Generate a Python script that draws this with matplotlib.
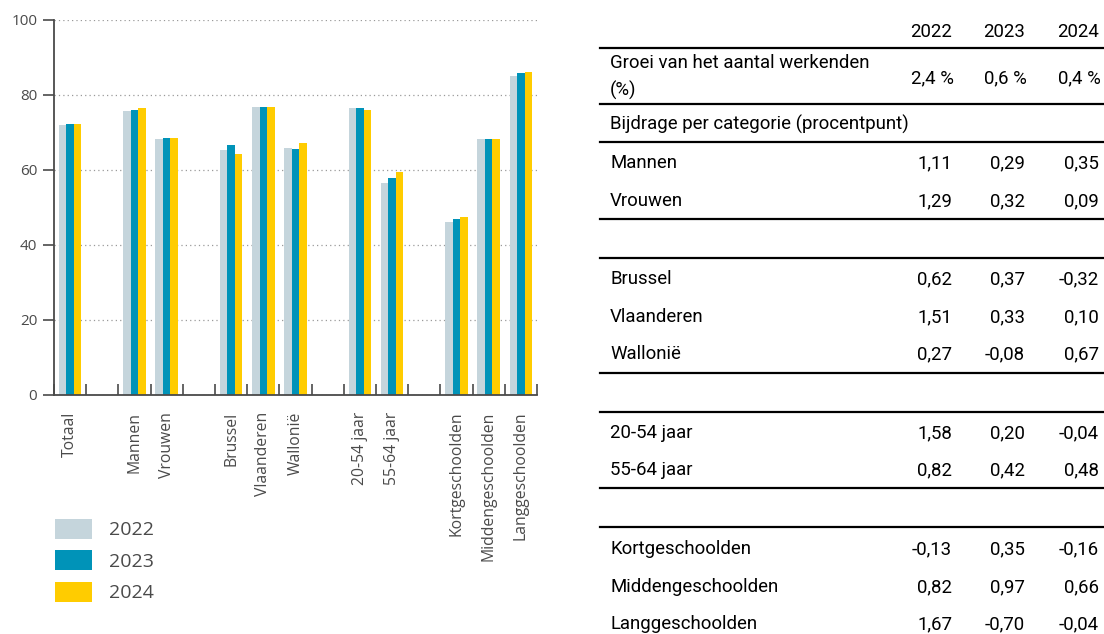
import matplotlib
matplotlib.use("Agg")
import matplotlib.pyplot as plt
from matplotlib.lines import Line2D
from matplotlib.patches import Patch

# ---------------- data ----------------
years = ["2022", "2023", "2024"]
groups = [
    ["Totaal"],
    ["Mannen", "Vrouwen"],
    ["Brussel", "Vlaanderen", "Wallonië"],
    ["20-54 jaar", "55-64 jaar"],
    ["Kortgeschoolden", "Middengeschoolden", "Langgeschoolden"],
]
rate_2022 = [71.9, 75.7, 68.1, 65.2, 76.7, 65.7, 76.5, 56.5, 46.2, 68.3, 85.0]
rate_2023 = [72.1, 76.0, 68.4, 66.5, 76.8, 65.5, 76.3, 57.8, 46.9, 68.1, 85.8]
rate_2024 = [72.3, 76.3, 68.4, 64.1, 76.8, 67.1, 76.0, 59.4, 47.5, 68.1, 86.0]
yticks = [0, 20, 40, 60, 80, 100]

growth_label = "Groei van het aantal werkenden\n(%)"
growth = [2.4, 0.6, 0.4]
contrib_title = "Bijdrage per categorie (procentpunt)"
contrib_groups = [
    ["Mannen", "Vrouwen"],
    ["Brussel", "Vlaanderen", "Wallonië"],
    ["20-54 jaar", "55-64 jaar"],
    ["Kortgeschoolden", "Middengeschoolden", "Langgeschoolden"],
]
contrib_2022 = [1.11, 1.29, 0.62, 1.51, 0.27, 1.58, 0.82, -0.13, 0.82, 1.67]
contrib_2023 = [0.29, 0.32, 0.37, 0.33, -0.08, 0.20, 0.42, 0.35, 0.97, -0.70]
contrib_2024 = [0.35, 0.09, -0.32, 0.10, 0.67, -0.04, 0.48, -0.16, 0.66, -0.04]

# ---------------- style ----------------
W, H = 1104, 634
c_grey, c_blue, c_yellow = "#c5d5dc", "#0093b8", "#ffcc00"
colors = [c_grey, c_blue, c_yellow]
axis_col = "#4a4a4a"
txt_col = "#4a4a4a"
chart_font = "Open Sans"
table_font = "Roboto"

fig = plt.figure(figsize=(W / 100, H / 100), dpi=100)

def fx(px):
    return px / W

def fy(py):
    return 1 - py / H

# ---------------- chart ----------------
ax = fig.add_axes([fx(54), fy(395), fx(537) - fx(54), fy(19.5) - fy(395)])

positions, labels = [], []
slot = 0
for gi, g in enumerate(groups):
    if gi > 0:
        slot += 1
    for name in g:
        positions.append(slot + 0.5)
        labels.append(name)
        slot += 1
nslots = slot

bw = 0.233
series = [rate_2022, rate_2023, rate_2024]
for k, (vals, col) in enumerate(zip(series, colors)):
    ax.bar([p + (k - 1) * bw for p in positions], vals, width=bw, color=col,
           zorder=3, linewidth=0)

ax.set_xlim(0, nslots)
ax.set_ylim(0, 100)
ax.set_yticks(yticks)
ax.set_xticks(positions)
ax.set_xticklabels(labels, rotation=90, fontsize=11.3, color=txt_col,
                   family=chart_font, va="top", ha="center")
ax.set_xticks(range(0, nslots + 1), minor=True)
ax.tick_params(axis="x", which="major", length=0, pad=12)
ax.tick_params(axis="x", which="minor", direction="in", length=8,
               width=1.2, color=axis_col)
ax.tick_params(axis="y", direction="out", length=8, width=1.2,
               color=axis_col, labelcolor=txt_col, labelsize=11, pad=4)
for lab in ax.get_yticklabels():
    lab.set_family(chart_font)

for s in ["top", "right"]:
    ax.spines[s].set_visible(False)
for s in ["left", "bottom"]:
    ax.spines[s].set_color(axis_col)
    ax.spines[s].set_linewidth(1.3)
ax.spines["bottom"].set_zorder(4)

ax.yaxis.grid(True, linestyle=(0, (1, 2.5)), color="#9a9a9a", linewidth=0.9,
              zorder=0)
ax.set_axisbelow(True)

# legend
handles = [Patch(facecolor=c, edgecolor="none") for c in colors]
fs_leg = 14
em = fs_leg * 100 / 72
fig.legend(handles, years, loc="upper left",
           bbox_to_anchor=(fx(55), fy(519)), frameon=False,
           prop={"family": chart_font, "size": fs_leg},
           labelcolor=txt_col, handlelength=37 / em, handleheight=23 / em,
           labelspacing=11 / em, handletextpad=17 / em,
           borderpad=0, borderaxespad=0)

# ---------------- table ----------------
fs_tab = 13.4
col_x = [952, 1025, 1099]
lab_x = 610
line_x0, line_x1 = 600, 1104

def hline(py):
    fig.add_artist(Line2D([fx(line_x0), fx(line_x1)], [fy(py), fy(py)],
                          color="black", linewidth=1.6,
                          transform=fig.transFigure))

def ttext(px, py, s, ha="left"):
    fig.text(fx(px), fy(py), s, ha=ha, va="center", fontsize=fs_tab,
             family=table_font, color="black")

def fmt(v):
    return f"{v:.2f}".replace(".", ",")

for x, yr in zip(col_x, years):
    ttext(x, 32, yr, ha="right")
hline(48)
fig.text(fx(lab_x), fy(77), growth_label, ha="left", va="center",
         fontsize=fs_tab, family=table_font, linespacing=1.55)
for x, v in zip(col_x, growth):
    ttext(x + 2, 78, f"{v:.1f} %".replace(".", ","), ha="right")
hline(104)
ttext(lab_x, 124, contrib_title)
hline(142)

row_y = [[163, 201], [279, 317, 354], [433, 470], [549, 587, 624]]
lines_after = [[219, 258], [373, 412], [488, 527]]
idx = 0
for gi, g in enumerate(contrib_groups):
    for name, yy in zip(g, row_y[gi]):
        ttext(lab_x, yy, name)
        for x, vals in zip(col_x, [contrib_2022, contrib_2023, contrib_2024]):
            ttext(x, yy, fmt(vals[idx]), ha="right")
        idx += 1
    if gi < len(lines_after):
        for ly in lines_after[gi]:
            hline(ly)

fig.savefig("out.png", dpi=100)
